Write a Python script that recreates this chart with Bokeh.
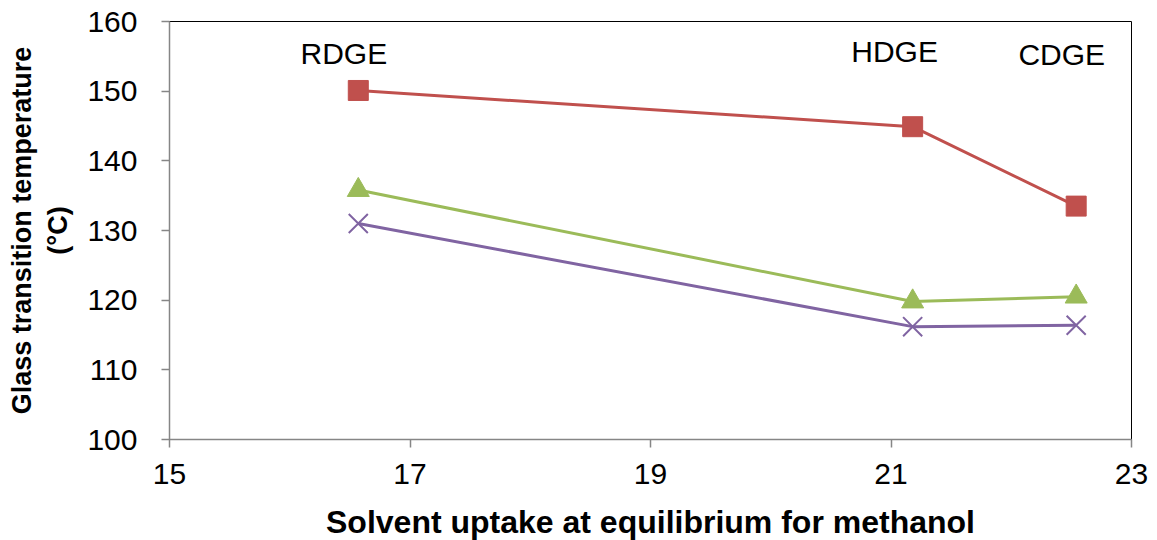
from bokeh.plotting import figure
from bokeh.embed import file_html
from bokeh.resources import INLINE
from bokeh.models import Range1d, FixedTicker, ColumnDataSource
from bokeh.core.properties import value

# data
solvent_uptake = [16.57, 21.18, 22.54]
tg_red = [150.1, 144.9, 133.5]
tg_green = [135.8, 119.8, 120.5]
tg_purple = [131.0, 116.2, 116.4]
resin_labels = ["RDGE", "HDGE", "CDGE"]
label_x = [16.45, 21.03, 22.42]
label_y = [154.1, 154.4, 154.0]
x_ticks = [15, 17, 19, 21, 23]
y_ticks = [100, 110, 120, 130, 140, 150, 160]

FONT = "Liberation Sans"
RED = "#C0504D"
GREEN = "#9BBB59"
PURPLE = "#8064A2"
AXIS_GRAY = "#868686"

p = figure(frame_width=962, frame_height=418, output_backend="svg",
           toolbar_location=None, x_range=Range1d(15, 23), y_range=Range1d(100, 160),
           min_border_left=169, min_border_right=18, min_border_top=21, min_border_bottom=93)

p.outline_line_color = "black"
p.outline_line_width = 1
p.xgrid.visible = False
p.ygrid.visible = False

for ax in (p.xaxis[0], p.yaxis[0]):
    ax.axis_line_color = AXIS_GRAY
    ax.axis_line_width = 1.5
    ax.major_tick_line_color = AXIS_GRAY
    ax.major_tick_line_width = 1.5
    ax.major_tick_in = 0
    ax.major_tick_out = 8
    ax.minor_tick_line_color = None
    ax.major_label_text_font = FONT
    ax.major_label_text_font_size = "30px"
    ax.major_label_text_color = "black"
    ax.axis_label_text_font = FONT
    ax.axis_label_text_font_style = "bold"
    ax.axis_label_text_color = "black"

p.xaxis.ticker = FixedTicker(ticks=x_ticks)
p.yaxis.ticker = FixedTicker(ticks=y_ticks)
p.xaxis.major_label_standoff = 16
p.yaxis.major_label_standoff = 24
p.xaxis.axis_label = "Solvent uptake at equilibrium for methanol"
p.yaxis.axis_label = "Glass transition temperature\n(°C)"
p.xaxis.axis_label_text_font_size = "32px"
p.yaxis.axis_label_text_font_size = "27px"
p.xaxis.axis_label_standoff = 17
p.yaxis.axis_label_standoff = 11

p.line(solvent_uptake, tg_red, line_color=RED, line_width=3)
p.scatter(solvent_uptake, tg_red, marker="square", size=20, fill_color=RED, line_color=RED)

p.line(solvent_uptake, tg_green, line_color=GREEN, line_width=3)
p.scatter(solvent_uptake, tg_green, marker="triangle", size=22, fill_color=GREEN, line_color=GREEN)

p.line(solvent_uptake, tg_purple, line_color=PURPLE, line_width=3)
p.scatter(solvent_uptake, tg_purple, marker="x", size=27, line_color=PURPLE, line_width=2)

src = ColumnDataSource(dict(x=label_x, y=label_y, t=resin_labels))
p.text(x="x", y="y", text="t", source=src, text_font=value(FONT), text_font_size="30px",
       text_align="center", text_baseline="alphabetic", text_color="black", y_offset=-9)

open("out.html", "w").write(file_html(p, INLINE))
